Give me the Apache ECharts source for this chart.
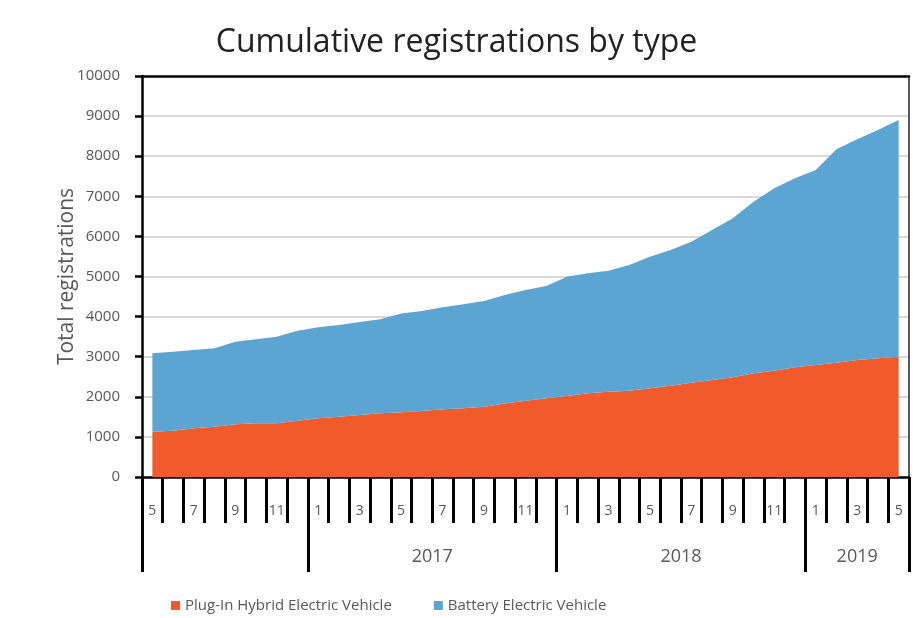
<!DOCTYPE html>
<html>
<head>
<meta charset="utf-8">
<title>Cumulative registrations by type</title>
<script src="https://cdn.jsdelivr.net/npm/echarts@6/dist/echarts.min.js"></script>
<style>
  html, body { margin: 0; padding: 0; background: #fff; }
  #chart { width: 913px; height: 618px; }
</style>
</head>
<body>
<div id="chart"></div>
<script>
// months May 2016 .. May 2019
var months = ['5','6','7','8','9','10','11','12',
  '1','2','3','4','5','6','7','8','9','10','11','12',
  '1','2','3','4','5','6','7','8','9','10','11','12',
  '1','2','3','4','5'];
// year group boundaries (category index) and their labels
var yearStarts = [0, 8, 20, 32, 37];
var yearLabels = ['', '2017', '2018', '2019'];

var phev = [1130, 1155, 1214, 1254, 1314, 1339, 1339, 1404, 1464, 1504, 1546, 1588,
  1613, 1646, 1688, 1713, 1753, 1830, 1900, 1962, 2020, 2087, 2127, 2152, 2212,
  2277, 2352, 2419, 2486, 2586, 2651, 2736, 2793, 2850, 2918, 2960, 3000];
var bev = [1955, 1970, 1953, 1955, 2061, 2095, 2161, 2246, 2269, 2286, 2319, 2344,
  2467, 2494, 2544, 2593, 2636, 2709, 2763, 2801, 2975, 2992, 3018, 3135, 3282,
  3383, 3516, 3741, 3964, 4280, 4549, 4713, 4863, 5322, 5503, 5693, 5900];

var font = '"Open Sans", "Liberation Sans", sans-serif';
var gray = '#595959';

// centre of each labelled year group on the 0..37 boundary scale
var yearCenters = [];
var yearByCenter = {};
for (var i = 0; i < yearLabels.length; i++) {
  if (!yearLabels[i]) continue;
  var c = (yearStarts[i] + yearStarts[i + 1]) / 2;
  yearCenters.push(c);
  yearByCenter[c] = yearLabels[i];
}

var chart = echarts.init(document.getElementById('chart'));
chart.setOption({
  animation: false,
  title: {
    text: 'Cumulative registrations by type',
    left: 'center',
    top: 22,
    textStyle: { fontFamily: font, fontSize: 32, fontWeight: 'normal', color: '#222' }
  },
  legend: {
    bottom: 0,
    left: 166,
    icon: 'rect',
    itemWidth: 9,
    itemHeight: 9,
    itemGap: 42,
    textStyle: { fontFamily: font, fontSize: 15, color: gray },
    data: ['Plug-In Hybrid Electric Vehicle', 'Battery Electric Vehicle']
  },
  grid: { left: 142, right: 4, top: 76, bottom: 141 },
  xAxis: [{
    type: 'category',
    data: months,
    boundaryGap: true,
    axisLine: { lineStyle: { color: '#000', width: 2.5 } },
    axisTick: { show: true, interval: 0, length: 46, lineStyle: { color: '#000', width: 3 } },
    axisLabel: { interval: 1, margin: 27, fontFamily: font, fontSize: 14, color: gray }
  }, {
    type: 'value',
    position: 'bottom',
    min: 0,
    max: months.length,
    splitLine: { show: false },
    axisLine: { show: false },
    axisTick: { show: true, customValues: yearStarts, length: 95, lineStyle: { color: '#000', width: 3 } },
    axisLabel: {
      customValues: yearCenters,
      margin: 71,
      fontFamily: font, fontSize: 18, color: gray,
      formatter: function (v) { return yearByCenter[v] || ''; }
    }
  }, {
    type: 'category',
    position: 'top',
    data: months,
    axisLine: { show: true, lineStyle: { color: '#000', width: 2.5 } },
    axisTick: { show: false },
    axisLabel: { show: false }
  }],
  yAxis: [{
    type: 'value',
    min: 0, max: 10000, interval: 1000,
    name: 'Total registrations',
    nameLocation: 'middle',
    nameGap: 64,
    nameMoveOverlap: false,
    nameTextStyle: { fontFamily: font, fontSize: 21, color: gray },
    axisLine: { show: true, lineStyle: { color: '#000', width: 2.5 } },
    axisTick: { show: true, length: 7, lineStyle: { color: '#000', width: 2.5 } },
    axisLabel: {
      margin: 22, fontFamily: font, fontSize: 15, color: gray,
      formatter: function (v) { return String(v); }
    },
    splitLine: { showMinLine: false, showMaxLine: false, lineStyle: { color: '#d9d9d9', width: 2 } }
  }, {
    type: 'value',
    position: 'right',
    min: 0, max: 10000,
    axisLine: { show: true, lineStyle: { color: '#222', width: 1.5 } },
    axisTick: { show: false },
    axisLabel: { show: false },
    splitLine: { show: false }
  }],
  series: [{
    name: 'Plug-In Hybrid Electric Vehicle',
    type: 'line',
    stack: 'total',
    data: phev,
    showSymbol: false,
    lineStyle: { width: 0 },
    itemStyle: { color: '#F15B2B' },
    areaStyle: { color: '#F15B2B', opacity: 1 }
  }, {
    name: 'Battery Electric Vehicle',
    type: 'line',
    stack: 'total',
    data: bev,
    showSymbol: false,
    lineStyle: { width: 0 },
    itemStyle: { color: '#5CA4D2' },
    areaStyle: { color: '#5CA4D2', opacity: 1 }
  }]
});
</script>
</body>
</html>
